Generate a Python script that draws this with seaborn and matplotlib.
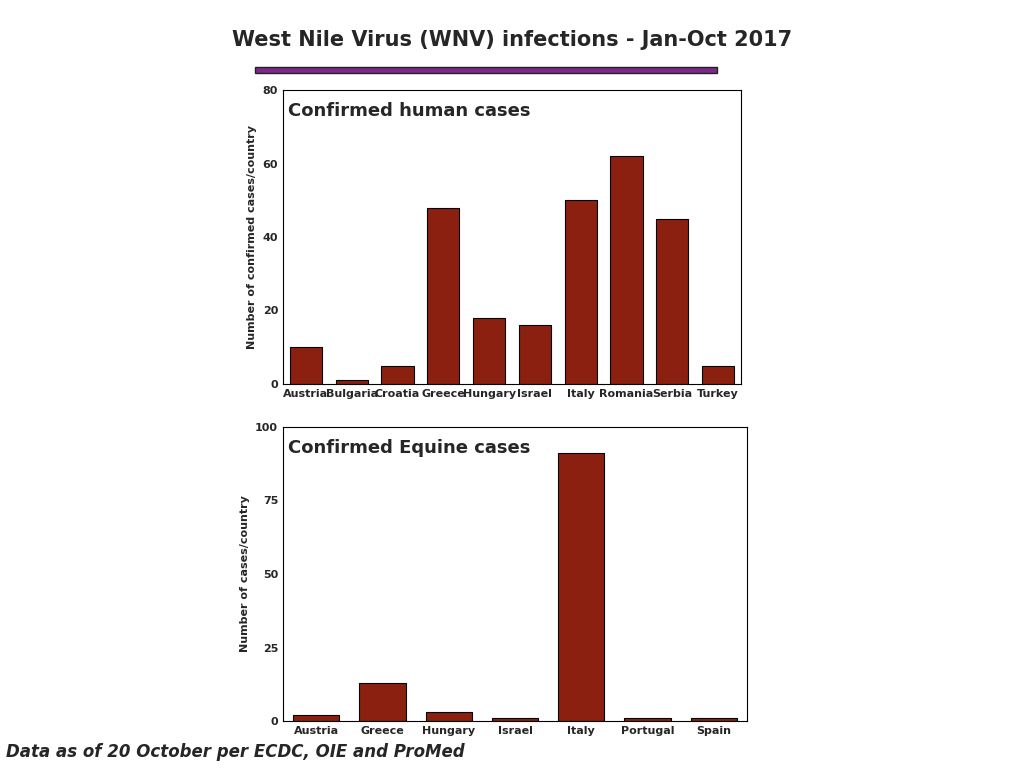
import matplotlib
matplotlib.use("Agg")
import matplotlib.pyplot as plt
import seaborn as sns
import pandas as pd
from matplotlib.patches import Rectangle

human_countries = ["Austria", "Bulgaria", "Croatia", "Greece", "Hungary",
                   "Israel", "Italy", "Romania", "Serbia", "Turkey"]
human_cases = [10, 1, 5, 48, 18, 16, 50, 62, 45, 5]

equine_countries = ["Austria", "Greece", "Hungary", "Israel", "Italy", "Portugal", "Spain"]
equine_cases = [2, 13, 3, 1, 91, 1, 1]

BAR_COLOR = "#8B2011"

sns.set_style("white")
plt.rcParams["font.family"] = ["DejaVu Sans"]

fig = plt.figure(figsize=(10.24, 7.68), dpi=100)
W, H = 1024, 768


def panel(rect, countries, values, ymax, yticks, ylabel, title):
    l, t, r, b = rect
    ax = fig.add_axes([l / W, 1 - b / H, (r - l) / W, (b - t) / H])
    df = pd.DataFrame({"country": countries, "cases": values})
    sns.barplot(data=df, x="country", y="cases", color=BAR_COLOR,
                edgecolor="black", linewidth=0.8, width=0.7, saturation=1, ax=ax)
    ax.set_ylim(0, ymax)
    ax.set_yticks(yticks)
    ax.set_xlabel("")
    ax.set_ylabel(ylabel, fontsize=8, fontweight="bold")
    ax.tick_params(axis="both", length=0, labelsize=8)
    for lab in ax.get_xticklabels() + ax.get_yticklabels():
        lab.set_fontweight("bold")
    for s in ax.spines.values():
        s.set_color("black")
        s.set_linewidth(0.8)
    ax.text(0.01, 0.96, title, transform=ax.transAxes, fontsize=13,
            fontweight="bold", va="top", ha="left")
    return ax


panel((283, 90, 741, 384), human_countries, human_cases, 80, [0, 20, 40, 60, 80],
      "Number of confirmed cases/country", "Confirmed human cases")
panel((283, 427, 747, 721), equine_countries, equine_cases, 100, [0, 25, 50, 75, 100],
      "Number of cases/country", "Confirmed Equine cases")

fig.text(512 / W, 1 - 40 / H, "West Nile Virus (WNV) infections - Jan-Oct 2017",
         ha="center", va="center", fontsize=15, fontweight="bold")
fig.patches.append(Rectangle((255 / W, 1 - 73 / H), 462 / W, 6 / H,
                             transform=fig.transFigure, facecolor="#7B2A8A",
                             edgecolor="#222222", linewidth=1))
fig.text(6 / W, 1 - 752 / H, "Data as of 20 October per ECDC, OIE and ProMed",
         ha="left", va="center", fontsize=12, fontweight="bold", fontstyle="italic")

fig.savefig("out.png", dpi=100)
